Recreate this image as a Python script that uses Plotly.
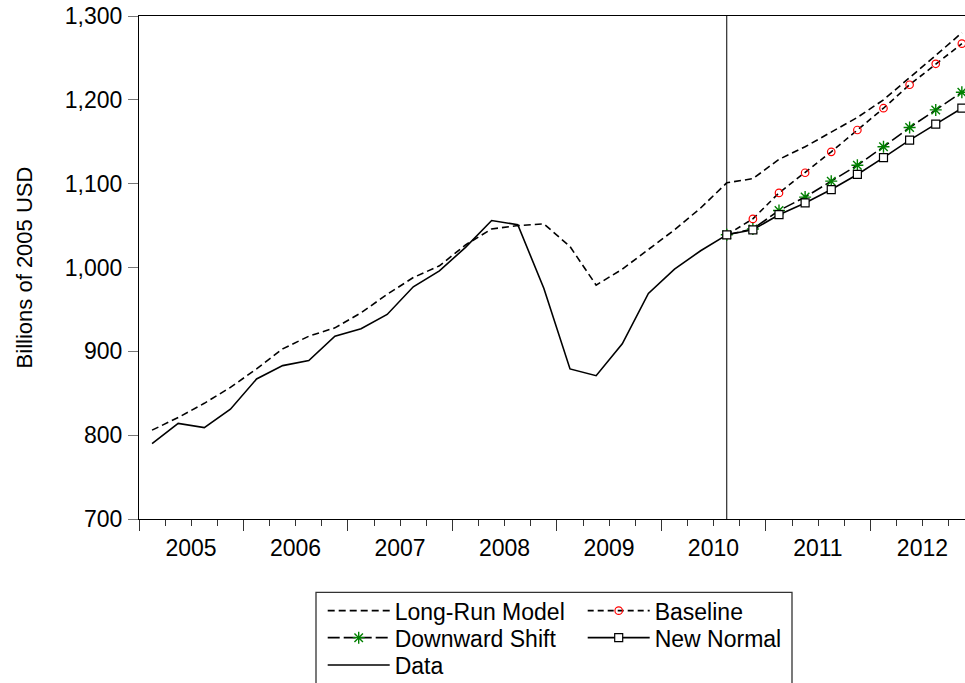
import plotly.graph_objects as go

# ---------------- data ----------------
quarters = [f"{y}Q{q}" for y in range(2005, 2013) for q in range(1, 5)]

long_run = [806, 821, 838, 857, 879, 903, 918, 928, 946, 968, 988, 1002,
            1027, 1046, 1050, 1052, 1025, 979, 998, 1021, 1045, 1071, 1101,
            1106, 1129, 1144, 1161, 1179, 1200, 1226, 1253, 1280]

data_q = quarters[:23]
data_vals = [790, 814, 809, 831, 867, 883, 889, 918, 927, 944, 977, 996,
             1024, 1056, 1051, 975, 879, 871, 909, 969, 998, 1020, 1039]

fc_q = quarters[22:]
baseline = [1039, 1058, 1089, 1113, 1138, 1164, 1190, 1218, 1243, 1267]
downward = [1039, 1046, 1068, 1084, 1103, 1122, 1144, 1167, 1188, 1209]
new_normal = [1039, 1045, 1063, 1077, 1093, 1111, 1131, 1152, 1171, 1190]

years = [2005, 2006, 2007, 2008, 2009, 2010, 2011, 2012]
y_ticks = [700, 800, 900, 1000, 1100, 1200, 1300]
forecast_start = "2010Q3"


def qpos(label):
    """Quarter label -> position at the centre of its quarter slot."""
    return int(label[:4]) + (int(label[5]) - 0.5) / 4


FONT = "Liberation Sans, Arial, sans-serif"

fig = go.Figure()

fig.add_trace(go.Scatter(
    x=[qpos(q) for q in data_q], y=data_vals, name="Data", mode="lines",
    line=dict(color="black", width=1.6), legend="legend5"))

fig.add_trace(go.Scatter(
    x=[qpos(q) for q in quarters], y=long_run, name="Long-Run Model",
    mode="lines", line=dict(color="black", width=1.6, dash="7px,4px"),
    legend="legend"))

fig.add_trace(go.Scatter(
    x=[qpos(q) for q in fc_q], y=baseline, name="Baseline",
    mode="lines+markers", line=dict(color="black", width=1.6, dash="6px,4px"),
    marker=dict(symbol="circle-open", color="red", size=7.5, line=dict(width=1.2)),
    legend="legend2"))

fig.add_trace(go.Scatter(
    x=[qpos(q) for q in fc_q], y=downward, name="Downward Shift",
    mode="lines+markers", line=dict(color="black", width=1.6, dash="12px,4px"),
    marker=dict(symbol="asterisk-open", color="#008000", size=10,
                line=dict(width=1.4, color="#008000")),
    legend="legend3"))

fig.add_trace(go.Scatter(
    x=[qpos(q) for q in fc_q], y=new_normal, name="New Normal",
    mode="lines+markers", line=dict(color="black", width=1.6),
    marker=dict(symbol="square", color="white", size=8,
                line=dict(width=1.2, color="black")),
    legend="legend4"))

# ---------------- layout ----------------
L, T, B = 139, 16, 164
W, H = 965, 683
PW, PH = W - L, H - T - B
PX_PER_YEAR = 104.49
x_end = years[0] + PW / PX_PER_YEAR


def px_x(px):
    return (px - L) / PW


def px_y(py):
    return (H - B - py) / PH


leg_common = dict(orientation="h", xanchor="left", yanchor="middle",
                  bgcolor="rgba(0,0,0,0)", borderwidth=0, itemwidth=62,
                  font=dict(family=FONT, size=23, color="black"))
col1, col2 = px_x(322.7), px_x(582.7)
row1, row2, row3 = px_y(610.7), px_y(637.7), px_y(665)

fig.update_layout(
    width=W, height=H,
    showlegend=True,
    margin=dict(l=L, r=0, t=T, b=B, autoexpand=False),
    paper_bgcolor="white", plot_bgcolor="white",
    font=dict(family=FONT, size=23, color="black"),
    legend=dict(x=col1, y=row1, **leg_common),
    legend2=dict(x=col2, y=row1, **leg_common),
    legend3=dict(x=col1, y=row2, **leg_common),
    legend4=dict(x=col2, y=row2, **leg_common),
    legend5=dict(x=col1, y=row3, **leg_common),
    xaxis=dict(
        range=[years[0], x_end], showgrid=False, zeroline=False,
        showline=True, linecolor="black", linewidth=1, mirror=True,
        tickmode="array", tickvals=years, ticktext=[str(y) for y in years],
        ticks="outside", ticklen=11, tickcolor="#333", tickwidth=1,
        ticklabelshift=round(PX_PER_YEAR / 2), ticklabelstandoff=-3,
        tickfont=dict(family=FONT, size=23, color="black"),
        minor=dict(ticks="outside", ticklen=6, tickcolor="#333",
                   tick0=years[0], dtick=0.25, showgrid=False),
    ),
    yaxis=dict(
        range=[y_ticks[0], y_ticks[-1]], showgrid=False, zeroline=False,
        showline=True, linecolor="black", linewidth=1, mirror=False,
        tickmode="array", tickvals=y_ticks, tickformat=",",
        ticks="outside", ticklen=10, tickcolor="#777", tickwidth=1,
        ticklabelstandoff=1,
        tickfont=dict(family=FONT, size=23, color="black"),
        title=dict(text="Billions of 2005 USD", standoff=26,
                   font=dict(family=FONT, size=22, color="black")),
    ),
    shapes=[
        dict(type="line", xref="x", yref="paper",
             x0=qpos(forecast_start), x1=qpos(forecast_start), y0=0, y1=1,
             line=dict(color="black", width=1), layer="below"),
        dict(type="rect", xref="paper", yref="paper",
             x0=px_x(316), x1=px_x(792), y0=px_y(592.3), y1=px_y(700),
             line=dict(color="#333", width=1.3), fillcolor="rgba(0,0,0,0)"),
    ],
)

fig.write_html(
    "out.html",
    config={"displayModeBar": False},
    post_script="document.body.style.margin='0';document.body.style.padding='0';"
                "document.body.style.overflow='hidden';",
)
